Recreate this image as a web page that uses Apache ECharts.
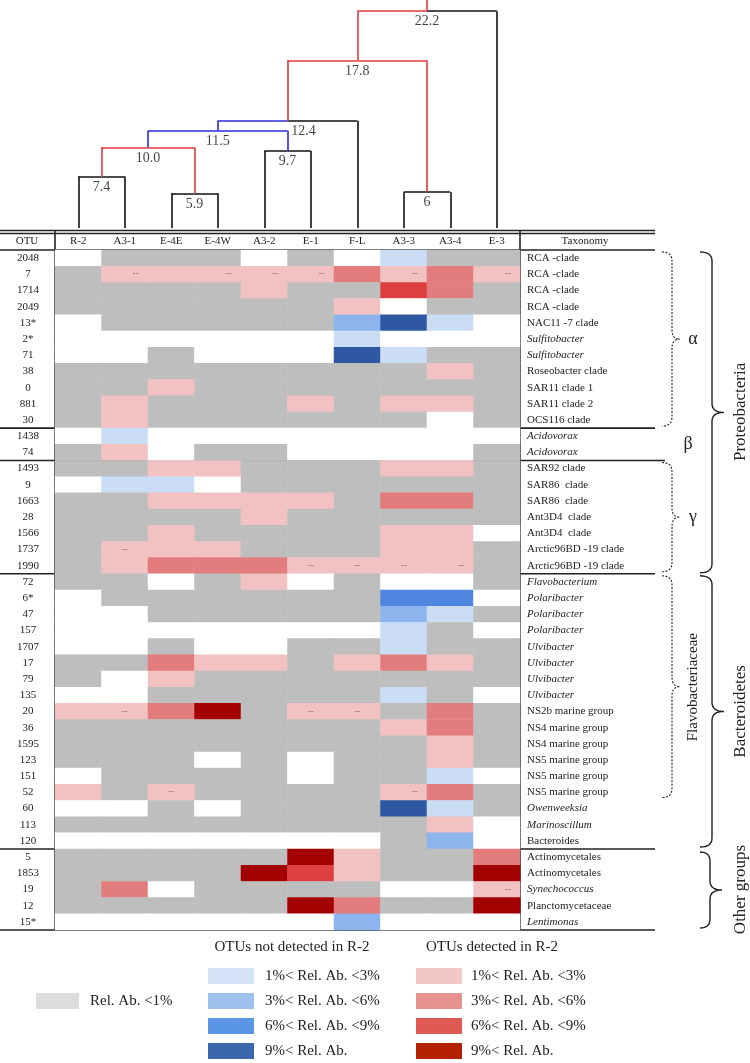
<!DOCTYPE html>
<html><head><meta charset="utf-8">
<script src="https://cdn.jsdelivr.net/npm/echarts@6/dist/echarts.min.js"></script>
<style>html,body{margin:0;padding:0;background:#fff}#c{width:750px;height:1063px}</style>
</head><body><div id="c"></div>
<script>
// ---------------- DATA ----------------
const samples = ['R-2','A3-1','E-4E','E-4W','A3-2','E-1','F-L','A3-3','A3-4','E-3'];
const otus = ['2048','7','1714','2049','13*','2*','71','38','0','881','30',
  '1438','74',
  '1493','9','1663','28','1566','1737','1990',
  '72','6*','47','157','1707','17','79','135','20','36','1595','123','151','52','60','113','120',
  '5','1853','19','12','15*'];
const taxonomy = ['RCA -clade','RCA -clade','RCA -clade','RCA -clade','NAC11 -7 clade','Sulfitobacter','Sulfitobacter','Roseobacter clade','SAR11 clade 1','SAR11 clade 2','OCS116 clade',
  'Acidovorax','Acidovorax',
  'SAR92 clade','SAR86  clade','SAR86  clade','Ant3D4  clade','Ant3D4  clade','Arctic96BD -19 clade','Arctic96BD -19 clade',
  'Flavobacterium','Polaribacter','Polaribacter','Polaribacter','Ulvibacter','Ulvibacter','Ulvibacter','Ulvibacter','NS2b marine group','NS4 marine group','NS4 marine group','NS5 marine group','NS5 marine group','NS5 marine group','Owenweeksia','Marinoscillum','Bacteroides',
  'Actinomycetales','Actinomycetales','Synechococcus','Planctomycetaceae','Lentimonas'];
const italicTaxa = ['Sulfitobacter','Acidovorax','Flavobacterium','Polaribacter','Ulvibacter','Owenweeksia','Marinoscillum','Synechococcus','Lentimonas'];
// abundance class per cell: 0 absent, 1 <1%, 2-5 blue classes (not in R-2), 6-9 red classes (in R-2)
const levels = [
  [0,1,1,1,0,1,0,2,1,1],
  [1,6,6,6,6,6,7,6,7,6],
  [1,1,1,1,6,1,1,8,7,1],
  [1,1,1,1,1,1,6,0,1,1],
  [0,1,1,1,1,1,3,5,2,0],
  [0,0,0,0,0,0,2,0,0,0],
  [0,0,1,0,0,0,5,2,1,1],
  [1,1,1,1,1,1,1,1,6,1],
  [1,1,6,1,1,1,1,1,1,1],
  [1,6,1,1,1,6,1,6,6,1],
  [1,6,1,1,1,1,1,1,0,1],
  [0,2,0,0,0,0,0,0,0,0],
  [1,6,0,1,1,0,0,0,0,1],
  [1,1,6,6,1,1,1,6,6,1],
  [0,2,2,0,1,1,1,1,1,1],
  [1,1,6,6,6,6,1,7,7,1],
  [1,1,1,1,6,1,1,1,1,1],
  [1,1,6,1,1,1,1,6,6,0],
  [1,6,6,6,1,1,1,6,6,1],
  [1,6,7,7,7,6,6,6,6,1],
  [1,1,0,1,6,0,1,0,0,1],
  [0,1,1,1,1,1,1,4,4,0],
  [0,0,1,1,1,1,1,3,2,1],
  [0,0,0,0,0,0,0,2,1,0],
  [0,0,1,0,0,1,1,2,1,1],
  [1,1,7,6,6,1,6,7,6,1],
  [1,0,6,1,1,1,1,1,1,1],
  [0,0,1,1,1,1,1,2,1,0],
  [6,6,7,9,1,6,6,1,7,1],
  [1,1,1,1,1,1,1,6,7,1],
  [1,1,1,1,1,1,1,1,6,1],
  [1,1,1,0,1,0,1,1,6,1],
  [0,1,1,1,1,0,1,1,2,0],
  [6,1,6,1,1,1,1,6,7,1],
  [0,0,1,0,1,1,1,5,2,1],
  [1,1,1,1,1,1,1,1,6,0],
  [0,0,0,0,0,0,0,1,3,0],
  [1,1,1,1,1,9,6,1,1,7],
  [1,1,1,1,9,8,6,1,1,9],
  [1,7,0,1,1,1,1,0,0,6],
  [1,1,1,1,1,9,7,1,1,9],
  [0,0,0,0,0,0,3,0,0,0]
];
// "--" marks [sampleIndex, rowIndex]
const marks = [[1,1],[3,1],[4,1],[5,1],[7,1],[9,1],[1,18],[5,19],[6,19],[7,19],[8,19],[1,28],[5,28],[6,28],[2,33],[7,33],[9,39]];
const marksRight = [0,1,2,3,4,5,10,15,16];
// dendrogram merges: [childA, childB, height label]; leaves are 0..9, merged nodes get ids 10..
const merges = [[0,1,'7.4'],[2,3,'5.9'],[4,5,'9.7'],[7,8,'6'],[10,11,'10.0'],[14,12,'11.5'],[15,6,'12.4'],[16,13,'17.8'],[17,9,'22.2']];
const branchColor = {10:'r',11:'r',12:'b',13:'r',14:'b',15:'b',16:'r',17:'r',18:'r'};
const groupLines = [11,13,20,37];
const legendBlue = ['1%< Rel. Ab. <3%','3%< Rel. Ab. <6%','6%< Rel. Ab. <9%','9%< Rel. Ab.'];
const legendRed = ['1%< Rel. Ab. <3%','3%< Rel. Ab. <6%','6%< Rel. Ab. <9%','9%< Rel. Ab.'];

// ---------------- STYLE / LAYOUT ----------------
const FONT = 'Liberation Serif';
const L = 55, R = 520, TOP = 250, BOT = 930;
const ROWH = (BOT - TOP) / otus.length, COLW = (R - L) / samples.length;
const CELL = ['#ffffff','#bebebe','#cbdcf5','#8db4ec','#4f86e0','#2f58a3','#f2c1c1','#e37c7c','#dd4040','#a30000'];
const LEG_BLUE = ['#d6e4f7','#9ec1ee','#5b96e4','#3b67ad'];
const LEG_RED = ['#f4c7c7','#e89191','#e05a55','#b32200'];
const LINE_COL = {r:'#e03a3a', b:'#2a2ae0', k:'#111111'};
const LEAF_H = 2.8, TOP_H = 23.2;

// heatmap data
const heat = [];
levels.forEach((row, r) => row.forEach((v, c) => heat.push([c, r, v])));

// dendrogram geometry from merges
const nodeX = {}, nodeH = {};
samples.forEach((s, i) => { nodeX[i] = i + 0.5; nodeH[i] = LEAF_H; });
const segs = [], dLabels = [];
function col(id) { return LINE_COL[branchColor[id] || 'k']; }
merges.forEach((m, k) => {
  const id = samples.length + k, a = m[0], b = m[1], h = parseFloat(m[2]);
  nodeX[id] = (nodeX[a] + nodeX[b]) / 2; nodeH[id] = h;
  [a, b].forEach(ch => {
    segs.push({coords: [[nodeX[ch], h], [nodeX[id], h]], lineStyle: {color: col(ch)}});
    segs.push({coords: [[nodeX[ch], h], [nodeX[ch], nodeH[ch]]], lineStyle: {color: col(ch)}});
  });
  dLabels.push({value: [nodeX[id], h], label: {formatter: m[2], offset: m[2] === '12.4' ? [16, 0] : [0, 0]}});
});
const rootId = samples.length + merges.length - 1;
segs.push({coords: [[nodeX[rootId], nodeH[rootId]], [nodeX[rootId], TOP_H]], lineStyle: {color: col(rootId)}});

// marks
const markData = marks.map((m, i) => ({value: m, label: {offset: marksRight.includes(i) ? [11, 0] : [0, 0]}}));

const chart = echarts.init(document.getElementById('c'), null, {renderer: 'canvas'});
const option = {
  animation: false,
  backgroundColor: '#fff',
  textStyle: {fontFamily: FONT},
  grid: [
    {left: L, top: TOP, width: R - L, height: BOT - TOP},
    {left: L, top: 0, width: R - L, height: 228}
  ],
  xAxis: [
    {type: 'category', gridIndex: 0, data: samples, position: 'top',
     axisLine: {show: false}, axisTick: {show: false}, splitLine: {show: false},
     axisLabel: {margin: 3, fontSize: 11, color: '#222', fontFamily: FONT}},
    {type: 'value', gridIndex: 1, min: 0, max: samples.length, show: false}
  ],
  yAxis: [
    {type: 'category', gridIndex: 0, data: otus, inverse: true, position: 'left',
     axisLine: {show: false}, axisTick: {show: false}, splitLine: {show: false},
     axisLabel: {margin: 27, align: 'center', fontSize: 11, color: '#222', fontFamily: FONT, interval: 0}},
    {type: 'category', gridIndex: 0, data: otus, inverse: true, position: 'right',
     axisLine: {show: false}, axisTick: {show: false}, splitLine: {show: false},
     axisLabel: {margin: 7, align: 'left', fontSize: 11, color: '#222', fontFamily: FONT, interval: 0,
       formatter: (v, i) => italicTaxa.includes(taxonomy[i]) ? '{i|' + taxonomy[i] + '}' : taxonomy[i],
       rich: {i: {fontStyle: 'italic', fontSize: 11, fontFamily: FONT, color: '#222'}}}},
    {type: 'value', gridIndex: 1, min: LEAF_H, max: TOP_H, show: false}
  ],
  visualMap: {type: 'piecewise', show: false, dimension: 2, seriesIndex: 0,
    pieces: CELL.map((c, i) => ({value: i, color: c}))},
  series: [
    {type: 'heatmap', xAxisIndex: 0, yAxisIndex: 0, data: heat, emphasis: {disabled: true}, itemStyle: {borderWidth: 0}},
    {type: 'scatter', xAxisIndex: 0, yAxisIndex: 0, data: markData, symbolSize: 1,
     itemStyle: {color: 'rgba(0,0,0,0)'}, silent: true,
     label: {show: true, position: 'inside', formatter: '--', fontSize: 8, color: '#555', fontFamily: 'DejaVu Sans'}},
    {type: 'lines', coordinateSystem: 'cartesian2d', xAxisIndex: 1, yAxisIndex: 2, data: segs,
     lineStyle: {width: 1.6, opacity: 1}, silent: true},
    {type: 'scatter', xAxisIndex: 1, yAxisIndex: 2, data: dLabels, symbolSize: 1,
     itemStyle: {color: 'rgba(0,0,0,0)'}, silent: true,
     label: {show: true, position: 'bottom', distance: 3, fontSize: 14, color: '#111', fontFamily: FONT}}
  ]
};
chart.setOption(option);

// ---------------- table frame, brackets, legend ----------------
const g = [];
function hline(y, x1, x2, w) { g.push({type: 'line', shape: {x1: x1, y1: y, x2: x2, y2: y}, style: {stroke: '#222', lineWidth: w || 1.5}, silent: true}); }
function vline(x, y1, y2, w) { g.push({type: 'line', shape: {x1: x, y1: y1, x2: x, y2: y2}, style: {stroke: '#222', lineWidth: w || 1.5}, silent: true}); }
function text(t, x, y, opt) { g.push(Object.assign({type: 'text', x: x, y: y, silent: true, style: Object.assign({text: t, fill: '#222', font: '11px "' + FONT + '"', textAlign: 'center', textVerticalAlign: 'middle'}, opt || {})})); }
const rowY = i => TOP + i * ROWH;
const RIGHT_END = 655;
hline(230.5, 0, RIGHT_END, 1.3); hline(233.5, 0, RIGHT_END, 1.3);
hline(TOP, 0, RIGHT_END, 1.6);
groupLines.forEach(i => hline(rowY(i), 0, i === 13 ? 665 : RIGHT_END, 1.6));
hline(BOT, 0, RIGHT_END, 1.6);
vline(L, 230, BOT, 1.6); vline(R, 230, BOT, 1.6);
text('OTU', 27, 241);
text('Taxonomy', 585, 241);

function quad(p0, p1, p2, n, out) { for (let k = 1; k <= n; k++) { const t = k / n, a = (1 - t) * (1 - t), b = 2 * (1 - t) * t, c = t * t; out.push([a * p0[0] + b * p1[0] + c * p2[0], a * p0[1] + b * p1[1] + c * p2[1]]); } }
function brace(x0, y0, y1, d, w, dashed) {
  const ym = (y0 + y1) / 2, r = Math.min(9, (y1 - y0) / 4), pts = [[x0, y0]];
  quad([x0, y0], [x0 + d, y0], [x0 + d, y0 + r], 8, pts);
  pts.push([x0 + d, ym - r]);
  quad([x0 + d, ym - r], [x0 + d, ym], [x0 + w, ym], 8, pts);
  quad([x0 + w, ym], [x0 + d, ym], [x0 + d, ym + r], 8, pts);
  pts.push([x0 + d, y1 - r]);
  quad([x0 + d, y1 - r], [x0 + d, y1], [x0, y1], 8, pts);
  g.push({type: 'polyline', shape: {points: pts}, silent: true,
    style: {stroke: '#222', fill: null, lineWidth: dashed ? 1.1 : 1.4, lineDash: dashed ? [2, 1.5] : null}});
}
brace(662, rowY(0) + 2, rowY(11) - 2, 10, 18, true);
brace(662, rowY(13) + 2, rowY(20) - 2, 10, 18, true);
brace(662, rowY(20) + 2, rowY(34) - 3, 10, 18, true);
brace(700, rowY(0) + 2, rowY(20) - 1, 12, 24, false);
brace(700, rowY(20) + 2, rowY(37) - 2, 12, 24, false);
brace(700, rowY(37) + 3, BOT - 2, 10, 22, false);
text('α', 693, (rowY(0) + rowY(11)) / 2, {font: '18px "' + FONT + '"'});
text('β', 688, (rowY(11) + rowY(13)) / 2, {font: '18px "' + FONT + '"'});
text('γ', 693, (rowY(13) + rowY(20)) / 2, {font: '18px "' + FONT + '"'});
function vtext(t, x, y, size) { g.push({type: 'text', x: x, y: y, rotation: Math.PI / 2, silent: true, style: {text: t, fill: '#222', font: size + 'px "' + FONT + '"', textAlign: 'center', textVerticalAlign: 'middle'}}); }
vtext('Flavobacteriaceae', 693, (rowY(20) + rowY(34)) / 2, 15);
vtext('Proteobacteria', 741, (rowY(0) + rowY(20)) / 2, 17);
vtext('Bacteroidetes', 741, (rowY(20) + rowY(37)) / 2, 17);
vtext('Other groups', 741, (rowY(37) + BOT) / 2, 17);

// legend
const LF = '15px "' + FONT + '"';
text('OTUs not detected in R-2', 292, 947, {font: LF});
text('OTUs detected in R-2', 492, 947, {font: LF});
const legY = [976, 1001, 1026, 1051];
legendBlue.forEach((t, i) => {
  g.push({type: 'rect', shape: {x: 208, y: legY[i] - 8, width: 46, height: 16}, style: {fill: LEG_BLUE[i]}, silent: true});
  text(t, 265, legY[i], {font: LF, textAlign: 'left'});
});
legendRed.forEach((t, i) => {
  g.push({type: 'rect', shape: {x: 416, y: legY[i] - 8, width: 46, height: 16}, style: {fill: LEG_RED[i]}, silent: true});
  text(t, 471, legY[i], {font: LF, textAlign: 'left'});
});
g.push({type: 'rect', shape: {x: 36, y: 993, width: 43, height: 16}, style: {fill: '#dcdcdc'}, silent: true});
text('Rel. Ab. <1%', 90, 1001, {font: LF, textAlign: 'left'});

chart.setOption({graphic: {elements: g}});
</script></body></html>
